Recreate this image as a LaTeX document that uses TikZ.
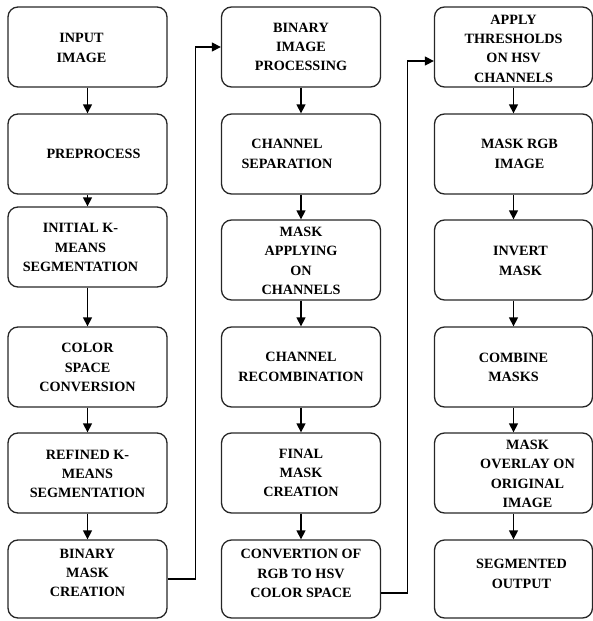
\documentclass[tikz,border=0pt]{standalone}
\usepackage{fontspec}
\setmainfont{Liberation Serif}
\usetikzlibrary{arrows.meta,calc}
\begin{document}
\begin{tikzpicture}[x=1pt,y=-1pt,
  box/.style={draw=black!85,line width=1.3pt,rounded corners=10pt,minimum width=159pt,minimum height=80pt,inner sep=0pt},
  lastbox/.style={box,minimum height=78pt},
  txt/.style={align=center,inner sep=0pt,font=\fontsize{14.2}{19.3}\selectfont\bfseries},
  arr/.style={line width=1.3pt,-{Triangle[length=9pt,width=9pt]}}]
\useasboundingbox (0,0) rectangle (593,621);
% column 1
\node[box] (a1) at (87.5,47) {};
\node[box] (a2) at (87.5,154) {};
\node[box] (a3) at (87.5,247) {};
\node[box] (a4) at (87.5,367) {};
\node[box] (a5) at (87.5,473) {};
\node[lastbox] (a6) at (87.5,579) {};
% column 2
\node[box] (b1) at (301,47) {};
\node[box] (b2) at (301,154) {};
\node[box] (b3) at (301,260) {};
\node[box] (b4) at (301,367) {};
\node[box] (b5) at (301,473) {};
\node[lastbox] (b6) at (301,579) {};
% column 3
\node[box,minimum width=158pt] (c1) at (513.5,47) {};
\node[box,minimum width=158pt] (c2) at (513.5,154) {};
\node[box,minimum width=158pt] (c3) at (513.5,260) {};
\node[box,minimum width=158pt] (c4) at (513.5,367) {};
\node[box,minimum width=158pt] (c5) at (513.5,473) {};
\node[lastbox,minimum width=158pt] (c6) at (513.5,579) {};
% texts
\node[txt] (ta1) at ([shift={(-6,1)}]a1.center) {INPUT\\IMAGE};
\node[txt] (ta2) at ([shift={(6,0)}]a2.center) {PREPROCESS};
\node[txt] (ta3) at ([shift={(-7,0.5)}]a3.center) {INITIAL K-\\MEANS\\SEGMENTATION};
\node[txt] (ta4) at ([shift={(0,0.5)}]a4.center) {COLOR\\SPACE\\CONVERSION};
\node[txt] (ta5) at ([shift={(0,1)}]a5.center) {REFINED K-\\MEANS\\SEGMENTATION};
\node[txt] (ta6) at ([shift={(0,-6)}]a6.center) {BINARY\\MASK\\CREATION};
\node[txt] (tb1) at (b1.center) {BINARY\\IMAGE\\PROCESSING};
\node[txt] (tb2) at ([shift={(-14,0)}]b2.center) {CHANNEL\\SEPARATION};
\node[txt] (tb3) at ([shift={(0,1)}]b3.center) {MASK\\APPLYING\\ON\\CHANNELS};
\node[txt] (tb4) at (b4.center) {CHANNEL\\RECOMBINATION};
\node[txt] (tb5) at (b5.center) {FINAL\\MASK\\CREATION};
\node[txt] (tb6) at ([shift={(0,-5.5)}]b6.center) {CONVERTION OF\\RGB TO HSV\\COLOR SPACE};
\node[txt] (tc1) at ([shift={(0,1.5)}]c1.center) {APPLY\\THRESHOLDS\\ON HSV\\CHANNELS};
\node[txt] (tc2) at ([shift={(6,0)}]c2.center) {MASK RGB\\IMAGE};
\node[txt] (tc3) at ([shift={(7,1)}]c3.center) {INVERT\\MASK};
\node[txt] (tc4) at ([shift={(0,0.5)}]c4.center) {COMBINE\\MASKS};
\node[txt] (tc5) at ([shift={(14,1)}]c5.center) {MASK\\OVERLAY ON\\ORIGINAL\\IMAGE};
\node[txt] (tc6) at ([shift={(8,-5)}]c6.center) {SEGMENTED\\OUTPUT};
% vertical arrows
\foreach \p/\q in {a1/a2,a2/a3,a3/a4,a4/a5,a5/a6,b1/b2,b2/b3,b3/b4,b4/b5,b5/b6,c1/c2,c2/c3,c3/c4,c4/c5,c5/c6}
  \draw[arr] (\p.south) -- (\q.north);
% column links
\draw[arr] (a6.east) -- ++(28,0) |- (b1.west);
\draw[arr] ([yshift=-14pt]b6.east) -- ++(26,0) |- ([yshift=-14pt]c1.west);
\end{tikzpicture}
\end{document}
